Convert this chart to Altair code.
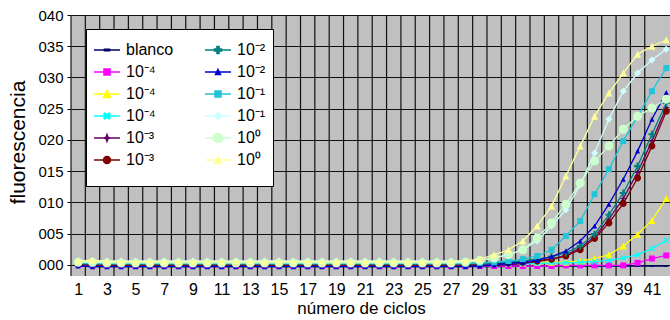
import altair as alt
import pandas as pd

# ---- data -------------------------------------------------------------
cycles = list(range(1, 43))

series_keys = [
    "blanco", "10⁻⁴ a", "10⁻⁴ b", "10⁻⁴ c", "10⁻³ a", "10⁻³ b",
    "10⁻² a", "10⁻² b", "10⁻¹ a", "10⁻¹ b", "10⁰ a", "10⁰ b",
]

blanco = [
    -0.0002, -0.0003, -0.0003, -0.0003, -0.0003, -0.0003, -0.0003, -0.0003, -0.0003, -0.0003, -0.0003, -0.0003, -0.0003, -0.0003,
    -0.0003, -0.0003, -0.0003, -0.0003, -0.0003, -0.0003, -0.0003, -0.0003, -0.0003, -0.0003, -0.0003, -0.0003, -0.0003, -0.0003,
    -0.0003, -0.0003, -0.0003, -0.0002, -0.0002, -0.0002, -0.0002, -0.0002, -0.0002, -0.0002, -0.0002, -0.0002, -0.0002, -0.0002,
]
dil_4a = [
    0.0000, -0.0001, -0.0001, -0.0001, -0.0002, -0.0002, -0.0002, -0.0002, -0.0002, -0.0002, -0.0002, -0.0002, -0.0002, -0.0002,
    -0.0002, -0.0002, -0.0002, -0.0002, -0.0002, -0.0002, -0.0002, -0.0002, -0.0002, -0.0002, -0.0002, -0.0002, -0.0002, -0.0002,
    -0.0002, -0.0002, -0.0002, -0.0002, -0.0002, -0.0002, -0.0001, -0.0001, -0.0001, -0.0001, -0.0001, 0.0003, 0.0010, 0.0015,
]
dil_4b = [
    0.0005, 0.0006, 0.0004, 0.0003, 0.0003, 0.0003, 0.0003, 0.0003, 0.0003, 0.0003, 0.0003, 0.0003, 0.0003, 0.0003,
    0.0003, 0.0003, 0.0003, 0.0003, 0.0003, 0.0003, 0.0003, 0.0003, 0.0003, 0.0003, 0.0003, 0.0003, 0.0003, 0.0003,
    0.0002, 0.0003, 0.0003, 0.0003, 0.0004, 0.0004, 0.0004, 0.0006, 0.0010, 0.0016, 0.0030, 0.0049, 0.0071, 0.0106,
]
dil_4c = [
    0.0002, 0.0002, 0.0001, 0.0001, 0.0001, 0.0001, 0.0001, 0.0001, 0.0001, 0.0001, 0.0001, 0.0001, 0.0001, 0.0001,
    0.0001, 0.0001, 0.0001, 0.0001, 0.0001, 0.0001, 0.0001, 0.0001, 0.0001, 0.0001, 0.0001, 0.0001, 0.0001, 0.0001,
    0.0001, 0.0001, 0.0002, 0.0002, 0.0002, 0.0003, 0.0003, 0.0004, 0.0005, 0.0007, 0.0011, 0.0016, 0.0026, 0.0039,
]
dil_3a = [
    0.0000, -0.0001, -0.0001, -0.0001, -0.0001, -0.0001, -0.0001, -0.0001, -0.0001, -0.0001, -0.0001, -0.0001, -0.0001, -0.0001,
    -0.0001, -0.0001, -0.0001, -0.0001, -0.0001, -0.0001, -0.0001, -0.0001, -0.0001, -0.0001, -0.0001, -0.0001, -0.0001, -0.0001,
    -0.0001, -0.0001, 0.0000, 0.0002, 0.0005, 0.0009, 0.0015, 0.0027, 0.0045, 0.0073, 0.0106, 0.0148, 0.0198, 0.0252,
]
dil_3b = [
    0.0001, 0.0000, 0.0000, 0.0000, 0.0000, 0.0000, 0.0000, 0.0000, 0.0000, 0.0000, 0.0000, 0.0000, 0.0000, 0.0000,
    0.0000, 0.0000, 0.0000, 0.0000, 0.0000, 0.0000, 0.0000, 0.0000, 0.0000, 0.0000, 0.0000, 0.0000, 0.0000, 0.0000,
    0.0001, 0.0002, 0.0003, 0.0004, 0.0006, 0.0009, 0.0014, 0.0024, 0.0042, 0.0067, 0.0098, 0.0139, 0.0190, 0.0246,
]
dil_2a = [
    0.0002, 0.0001, 0.0001, 0.0001, 0.0001, 0.0001, 0.0001, 0.0001, 0.0001, 0.0001, 0.0001, 0.0001, 0.0001, 0.0001,
    0.0001, 0.0001, 0.0001, 0.0001, 0.0001, 0.0001, 0.0001, 0.0001, 0.0001, 0.0001, 0.0001, 0.0001, 0.0001, 0.0001,
    0.0002, 0.0003, 0.0004, 0.0006, 0.0009, 0.0013, 0.0019, 0.0030, 0.0049, 0.0080, 0.0115, 0.0158, 0.0209, 0.0259,
]
dil_2b = [
    -0.0002, -0.0003, -0.0003, -0.0003, -0.0003, -0.0003, -0.0003, -0.0003, -0.0003, -0.0003, -0.0003, -0.0003, -0.0003, -0.0003,
    -0.0003, -0.0003, -0.0003, -0.0003, -0.0003, -0.0003, -0.0003, -0.0003, -0.0003, -0.0003, -0.0003, -0.0003, -0.0003, -0.0003,
    -0.0002, 0.0000, 0.0002, 0.0004, 0.0007, 0.0013, 0.0022, 0.0038, 0.0062, 0.0097, 0.0137, 0.0182, 0.0233, 0.0276,
]
dil_1a = [
    0.0003, 0.0002, 0.0002, 0.0002, 0.0002, 0.0002, 0.0002, 0.0002, 0.0002, 0.0002, 0.0002, 0.0002, 0.0002, 0.0002,
    0.0002, 0.0002, 0.0002, 0.0002, 0.0002, 0.0002, 0.0002, 0.0002, 0.0002, 0.0002, 0.0002, 0.0002, 0.0002, 0.0002,
    0.0003, 0.0004, 0.0006, 0.0009, 0.0014, 0.0024, 0.0046, 0.0070, 0.0113, 0.0153, 0.0198, 0.0238, 0.0278, 0.0315,
]
dil_1b = [
    0.0006, 0.0007, 0.0006, 0.0006, 0.0006, 0.0006, 0.0006, 0.0006, 0.0006, 0.0006, 0.0006, 0.0006, 0.0006, 0.0006,
    0.0006, 0.0006, 0.0006, 0.0006, 0.0006, 0.0006, 0.0006, 0.0006, 0.0006, 0.0006, 0.0006, 0.0006, 0.0006, 0.0006,
    0.0007, 0.0011, 0.0016, 0.0024, 0.0038, 0.0062, 0.0088, 0.0128, 0.0179, 0.0233, 0.0278, 0.0307, 0.0328, 0.0345,
]
dil_0a = [
    0.0004, 0.0004, 0.0003, 0.0003, 0.0003, 0.0003, 0.0003, 0.0003, 0.0003, 0.0003, 0.0003, 0.0003, 0.0003, 0.0003,
    0.0003, 0.0003, 0.0003, 0.0003, 0.0003, 0.0003, 0.0003, 0.0003, 0.0003, 0.0003, 0.0003, 0.0003, 0.0003, 0.0004,
    0.0007, 0.0011, 0.0016, 0.0024, 0.0043, 0.0067, 0.0097, 0.0131, 0.0166, 0.0190, 0.0217, 0.0238, 0.0251, 0.0265,
]
dil_0b = [
    0.0006, 0.0007, 0.0005, 0.0005, 0.0005, 0.0005, 0.0005, 0.0005, 0.0005, 0.0005, 0.0005, 0.0005, 0.0005, 0.0005,
    0.0005, 0.0005, 0.0005, 0.0005, 0.0005, 0.0005, 0.0005, 0.0005, 0.0005, 0.0005, 0.0005, 0.0005, 0.0005, 0.0006,
    0.0009, 0.0016, 0.0024, 0.0038, 0.0062, 0.0094, 0.0142, 0.0190, 0.0238, 0.0275, 0.0307, 0.0337, 0.0350, 0.0360,
]

series_values = [blanco, dil_4a, dil_4b, dil_4c, dil_3a, dil_3b,
                 dil_2a, dil_2b, dil_1a, dil_1b, dil_0a, dil_0b]

y_ticks = [0.000, 0.005, 0.010, 0.015, 0.020, 0.025, 0.030, 0.035, 0.040]
y_tick_text = ["000", "005", "010", "015", "020", "025", "030", "035", "040"]
x_labels = list(range(1, 42, 2))
x_bounds = [c - 0.5 for c in cycles[:-1]]

# ---- styles -----------------------------------------------------------
colors = {
    "blanco": "#000066", "10⁻⁴ a": "#FF00FF", "10⁻⁴ b": "#FFFF00",
    "10⁻⁴ c": "#00FFFF", "10⁻³ a": "#660066", "10⁻³ b": "#800000",
    "10⁻² a": "#008080", "10⁻² b": "#0000CC", "10⁻¹ a": "#22C4DA",
    "10⁻¹ b": "#CCFFFF", "10⁰ a": "#CCFFCC", "10⁰ b": "#FFFF99",
}


def square(h):
    return f"M{-h},{-h}H{h}V{h}H{-h}Z"


def triangle(h):
    return f"M0,{-h}L{h},{h}L{-h},{h}Z"


def diamond(h):
    return f"M0,{-h}L{h},0L0,{h}L{-h},0Z"


def circle(h):
    return f"M{-h},0A{h},{h} 0 1,0 {h},0A{h},{h} 0 1,0 {-h},0Z"


def plus(h):
    w = h * 0.3
    return f"M{-w},{-h}H{w}V{-w}H{h}V{w}H{w}V{h}H{-w}V{w}H{-h}V{-w}H{-w}Z"


def xcross(h):
    w = h * 0.3
    return (f"M{-h},{-h + w}L{-h + w},{-h}L0,{-w}L{h - w},{-h}L{h},{-h + w}L{w},0"
            f"L{h},{h - w}L{h - w},{h}L0,{w}L{-h + w},{h}L{-h},{h - w}L{-w},0Z")


def star(h):
    w = h * 0.25
    return f"M0,{-h}L{w},{-w}L{h},0L{w},{w}L0,{h}L{-w},{w}L{-h},0L{-w},{-w}Z"


def dash(h):
    return f"M{-h},{-h * 0.3}H{h}V{h * 0.3}H{-h}Z"


# marker shape and its pixel width for each series
markers = {
    "blanco": (dash, 5), "10⁻⁴ a": (square, 6), "10⁻⁴ b": (triangle, 7),
    "10⁻⁴ c": (xcross, 6), "10⁻³ a": (star, 7), "10⁻³ b": (circle, 7),
    "10⁻² a": (plus, 7), "10⁻² b": (triangle, 5), "10⁻¹ a": (square, 6),
    "10⁻¹ b": (diamond, 7), "10⁰ a": (circle, 9), "10⁰ b": (triangle, 7),
}

# legend symbols: a short line with the series marker in its middle
legend_colors = [colors[k] for k in series_keys]
SYM_W = 26
legend_paths = [
    "M-1,0H1" + markers[k][0](markers[k][1] / SYM_W) for k in series_keys
]

rows = []
for key, vals in zip(series_keys, series_values):
    for c, v in zip(cycles, vals):
        rows.append({"cycle": c, "value": v, "serie": key})
df = pd.DataFrame(rows)
bounds_df = pd.DataFrame({"cycle": x_bounds})

FONT = "Liberation Sans, Arial, sans-serif"

x_scale = alt.Scale(domain=[0.5, 42.26], nice=False, zero=False)
y_scale = alt.Scale(domain=[-0.0018, 0.040], nice=False, zero=False)
color_scale = alt.Scale(domain=series_keys, range=legend_colors)

label_map = "{" + ", ".join(f"'{v:.3f}': '{t}'" for v, t in zip(y_ticks, y_tick_text)) + "}"

x_axis = alt.Axis(values=x_labels, grid=False, ticks=False, domain=False,
                  labelFontSize=16, labelFont=FONT, labelColor="black",
                  labelPadding=5, labelFlush=False,
                  title="número de ciclos", titleFont=FONT, titleFontSize=17,
                  titleFontWeight="normal", titleColor="black",
                  titleX=290, titleY=32, titleBaseline="middle")
y_axis = alt.Axis(values=y_ticks, grid=True, gridColor="#111111", gridWidth=1.2,
                  gridOpacity=1, ticks=True, tickSize=4, tickColor="black",
                  domain=False, labelFontSize=15, labelFont=FONT,
                  labelColor="black", labelPadding=4,
                  labelExpr=label_map + "[format(datum.value, '.3f')]",
                  title="fluorescencia", titleFont=FONT, titleFontSize=21,
                  titleFontWeight="normal", titleColor="black",
                  titleAngle=-90, titleX=-53, titleY=127,
                  titleAlign="center", titleBaseline="middle")

x_enc = alt.X("cycle:Q", scale=x_scale, axis=x_axis)
y_enc = alt.Y("value:Q", scale=y_scale, axis=y_axis)

# vertical grid lines between cycles
vgrid = alt.Chart(bounds_df).mark_rule(color="#111111", strokeWidth=1.2).encode(
    x=x_enc,
)

# each series: its line, then its markers on top
series_layers = []
for key in series_keys:
    shape_fn, w = markers[key]
    sub = alt.Chart(df).transform_filter(alt.datum.serie == key)
    series_layers.append(
        sub.mark_line(strokeWidth=1.3, color=colors[key]).encode(x=x_enc, y=y_enc)
    )
    series_layers.append(
        sub.mark_point(shape=shape_fn(1), size=w * w, filled=True, opacity=1,
                       strokeWidth=0, color=colors[key]).encode(x=x_enc, y=y_enc)
    )

# second legend column gets trailing blank space so the box is wider
second_col = "[" + ", ".join(f"'{k}'" for k in series_keys[6:]) + "]"
label_expr = (f"split(datum.label, ' ')[0] + (indexof({second_col}, datum.value) >= 0 "
              f"? '{chr(0xA0) * 10}' : '')")

leg = alt.Legend(
    orient="none", legendX=15, legendY=14, columns=2, title="\u00a0",
    titleOrient="bottom", titleFontSize=9, titlePadding=2,
    labelExpr=label_expr, labelFont=FONT, labelFontSize=16, labelLimit=400,
    labelColor="black", labelOffset=5, columnPadding=28, rowPadding=0,
    symbolSize=SYM_W * SYM_W, symbolStrokeWidth=1.5, padding=7,
    fillColor="white", strokeColor="black",
)
legend_layer = alt.Chart(df).transform_filter("datum.cycle < 0").mark_point(
    filled=True, size=SYM_W * SYM_W, opacity=1, strokeWidth=1.5
).encode(
    x=x_enc, y=y_enc,
    fill=alt.Fill("serie:N", scale=color_scale, legend=leg),
    stroke=alt.Stroke("serie:N", scale=color_scale, legend=leg),
    shape=alt.Shape("serie:N", scale=alt.Scale(domain=series_keys, range=legend_paths), legend=leg),
)

chart = alt.layer(vgrid, *series_layers, legend_layer).properties(
    width=599, height=261,
    padding={"left": 71, "top": 15, "right": 0, "bottom": 44},
    autosize=alt.AutoSizeParams(type="none"),
    background="white",
).configure_view(fill="#C0C0C0", stroke=None)

chart.save("out.html", embed_options={"renderer": "svg", "actions": False})
